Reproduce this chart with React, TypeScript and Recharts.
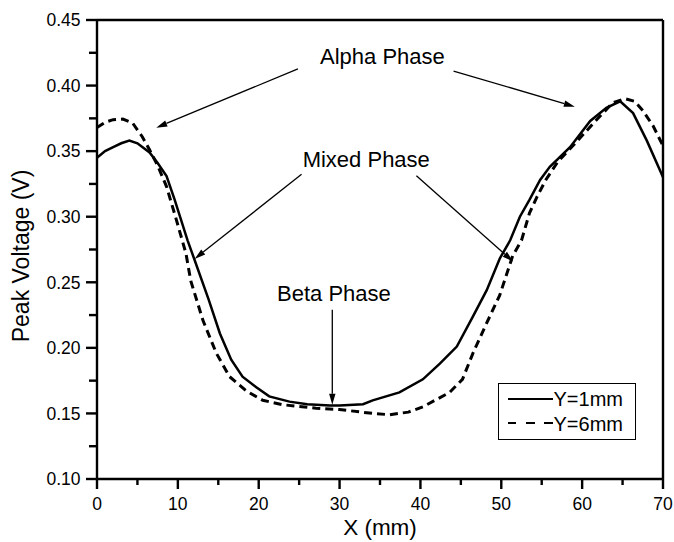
import React from 'react';
import { LineChart, Line, XAxis, YAxis, Legend, ReferenceLine, ReferenceDot } from 'recharts';

const FONT = '"Liberation Sans", Arial, Helvetica, sans-serif';

// Y = 1 mm scan
const x1mm = [0, 1, 2, 3, 4, 5, 6.5, 7.5, 8.6, 9.6, 11.2, 12.07, 13.8, 15.2, 16.6, 18.0, 19.7, 21.3, 23.8, 26, 28.8, 30, 32.9, 34.1, 37.4, 40.3, 42.4, 44.5, 46.5, 48.2, 49.8, 51.1, 52.3, 53.5, 54.8, 56.0, 58.5, 61.0, 63.0, 64.7, 66.3, 68.0, 69.8, 70];
const v1mm = [0.345, 0.35, 0.353, 0.356, 0.358, 0.356, 0.349, 0.341, 0.331, 0.313, 0.282, 0.267, 0.237, 0.211, 0.191, 0.178, 0.17, 0.163, 0.159, 0.157, 0.156, 0.156, 0.157, 0.16, 0.166, 0.176, 0.188, 0.201, 0.224, 0.244, 0.268, 0.282, 0.3, 0.313, 0.328, 0.338, 0.353, 0.373, 0.383, 0.388, 0.379, 0.358, 0.333, 0.33];

// Y = 6 mm scan
const x6mm = [0, 1, 2, 3.2, 4.4, 5.6, 6.5, 7.5, 8.6, 9.8, 11.0, 11.6, 13.1, 14.75, 16.4, 18.5, 20.5, 23.0, 27.1, 30, 34.1, 36.2, 38.5, 40.3, 43.6, 45.2, 46.5, 48.2, 49.8, 51.4, 52.5, 53.5, 54.4, 55.5, 57, 59, 61.5, 63.8, 65.3, 66.5, 67.5, 68.8, 70];
const v6mm = [0.368, 0.372, 0.374, 0.3745, 0.3715, 0.361, 0.351, 0.339, 0.323, 0.298, 0.272, 0.251, 0.221, 0.196, 0.178, 0.167, 0.16, 0.1566, 0.154, 0.153, 0.15, 0.149, 0.151, 0.155, 0.166, 0.176, 0.196, 0.219, 0.24, 0.27, 0.282, 0.303, 0.315, 0.328, 0.342, 0.355, 0.372, 0.387, 0.39, 0.388, 0.381, 0.369, 0.354];

const seriesNames = ['Y=1mm', 'Y=6mm'];

const xTicks = [0, 5, 10, 15, 20, 25, 30, 35, 40, 45, 50, 55, 60, 65, 70];
const yTicks = [0.1, 0.125, 0.15, 0.175, 0.2, 0.225, 0.25, 0.275, 0.3, 0.325, 0.35, 0.375, 0.4, 0.425, 0.45];

// phase annotations, in data units
const phaseNames = ['Alpha Phase', 'Mixed Phase', 'Beta Phase'];
const phaseX = [35.3, 33.3, 29.3];
const phaseV = [0.4227, 0.3439, 0.2417];
const arrowFrom = [[24.85, 0.4127], [44.1, 0.4111], [25.3, 0.3324], [39.5, 0.3313], [29.1, 0.229]];
const arrowTo = [[7.33, 0.3679], [59.1, 0.3839], [12.07, 0.2678], [51.46, 0.2658], [29.1, 0.1566]];

const data1 = x1mm.map((x, i) => ({ x, v: v1mm[i] }));
const data6 = x6mm.map((x, i) => ({ x, v: v6mm[i] }));

const isMajorY = (v: number) => Math.abs(v * 20 - Math.round(v * 20)) < 1e-6;

const T = 2.4; // tick thickness

const BottomTick = (props: any) => {
  const { x, y, payload } = props;
  const major = payload.value % 10 === 0;
  return (
    <g>
      <rect x={x - T / 2} y={y} width={T} height={major ? 10 : 6} fill="#000" />
      {major && (
        <text x={x} y={y + 31} textAnchor="middle" fontSize={17.5} fontFamily={FONT} fill="#000">
          {payload.value}
        </text>
      )}
    </g>
  );
};

const TopTick = (props: any) => {
  const { x, y, payload } = props;
  const major = payload.value % 10 === 0;
  return (
    <g>
      <rect x={x - T / 2} y={y} width={T} height={major ? 10 : 6} fill="#000" />
    </g>
  );
};

const LeftTick = (props: any) => {
  const { x, y, payload } = props;
  const major = isMajorY(payload.value);
  return (
    <g>
      <rect x={x - (major ? 11 : 8)} y={y - T / 2} width={major ? 11 : 8} height={T} fill="#000" />
      {major && (
        <text x={x - 16.5} y={y + 6.3} textAnchor="end" fontSize={17.5} fontFamily={FONT} fill="#000">
          {payload.value.toFixed(2)}
        </text>
      )}
    </g>
  );
};

const RightTick = (props: any) => {
  const { x, y } = props;
  return (
    <g>
      <rect x={x - 11} y={y - T / 2} width={11} height={T} fill="#000" />
    </g>
  );
};

// annotation arrow: thin line with a slim filled head at the end point
const Arrow = (props: any) => {
  const { x1, y1, x2, y2 } = props;
  const a = Math.atan2(y2 - y1, x2 - x1);
  const L = 11;
  const W = 3.2;
  const bx = x2 - L * Math.cos(a);
  const by = y2 - L * Math.sin(a);
  const p1x = bx + W * Math.sin(a);
  const p1y = by - W * Math.cos(a);
  const p2x = bx - W * Math.sin(a);
  const p2y = by + W * Math.cos(a);
  return (
    <g>
      <path d={`M${x1},${y1}L${bx},${by}`} stroke="#000" strokeWidth={1.3} fill="none" />
      <path d={`M${x2},${y2}L${p1x},${p1y}L${p2x},${p2y}Z`} fill="#000" />
    </g>
  );
};

const dashOffsets = [0, 18.5, 36.5];

const LegendBox = () => (
  <div
    style={{
      position: 'relative',
      width: 138,
      height: 57,
      boxSizing: 'border-box',
      border: '1.5px solid #000',
      background: '#fff',
      fontFamily: FONT,
      fontSize: 20,
      lineHeight: '20px',
      color: '#000',
    }}
  >
    <div style={{ position: 'absolute', left: 8.5, top: 13.6, width: 45, height: 2.5, background: '#000' }} />
    <div style={{ position: 'absolute', left: 54.5, top: 5.3, whiteSpace: 'nowrap' }}>{seriesNames[0]}</div>
    {dashOffsets.map((d) => (
      <div key={d} style={{ position: 'absolute', left: 8.5 + d, top: 37.6, width: 8.5, height: 2.5, background: '#000' }} />
    ))}
    <div style={{ position: 'absolute', left: 54.5, top: 29.6, whiteSpace: 'nowrap' }}>{seriesNames[1]}</div>
  </div>
);

const axisLine = { stroke: '#000', strokeWidth: 2.4 };

export default function App() {
  return (
    <div style={{ position: 'absolute', left: 0, top: 0, width: 674, height: 542, background: '#fff' }}>
      <LineChart width={674} height={542} margin={{ top: 19, right: 10, bottom: 0, left: 0 }} style={{ fontFamily: FONT }}>
        <XAxis
          dataKey="x"
          type="number"
          domain={[0, 70]}
          ticks={xTicks}
          interval={0}
          height={63}
          tickSize={0}
          tickMargin={0}
          tickLine={false}
          axisLine={axisLine}
          tick={<BottomTick />}
          label={{ value: 'X (mm)', position: 'insideBottom', offset: 7, fontSize: 22.5, fill: '#000', fontFamily: FONT }}
        />
        <XAxis xAxisId="top" orientation="top" dataKey="x" type="number" domain={[0, 70]} ticks={xTicks} interval={0} height={1} tickSize={0} tickMargin={0} tickLine={false} axisLine={axisLine} tick={<TopTick />} />
        <YAxis
          type="number"
          domain={[0.1, 0.45]}
          ticks={yTicks}
          interval={0}
          width={97}
          tickSize={0}
          tickMargin={0}
          tickLine={false}
          axisLine={axisLine}
          tick={<LeftTick />}
          label={{
            content: () => (
              <text transform="translate(28.5,256) rotate(-90)" textAnchor="middle" fontSize={23} fontFamily={FONT} fill="#000">
                Peak Voltage (V)
              </text>
            ),
          }}
        />
        <YAxis yAxisId="right" orientation="right" type="number" domain={[0.1, 0.45]} ticks={yTicks} interval={0} width={1} tickSize={0} tickMargin={0} tickLine={false} axisLine={axisLine} tick={<RightTick />} />
        <Line data={data1} dataKey="v" name={seriesNames[0]} type="linear" stroke="#000" strokeWidth={2.5} dot={false} isAnimationActive={false} />
        <Line data={data6} dataKey="v" name={seriesNames[1]} type="linear" stroke="#000" strokeWidth={3} strokeDasharray="8 5" dot={false} isAnimationActive={false} />
        {arrowFrom.map((f, i) => (
          <ReferenceLine
            key={'a' + i}
            segment={[{ x: f[0], y: f[1] }, { x: arrowTo[i][0], y: arrowTo[i][1] }]}
            stroke="#000"
            strokeWidth={1.3}
            shape={<Arrow />}
          />
        ))}
        {phaseNames.map((name, i) => (
          <ReferenceDot
            key={name}
            x={phaseX[i]}
            y={phaseV[i]}
            r={0}
            stroke="none"
            fill="none"
            label={{ value: name, position: 'center', fontSize: 22, fill: '#000', fontFamily: FONT }}
          />
        ))}
        <Legend
          layout="horizontal"
          verticalAlign="middle"
          align="center"
          content={<LegendBox />}
          wrapperStyle={{ position: 'absolute', left: 498, top: 383, width: 138, height: 57 }}
        />
      </LineChart>
    </div>
  );
}
